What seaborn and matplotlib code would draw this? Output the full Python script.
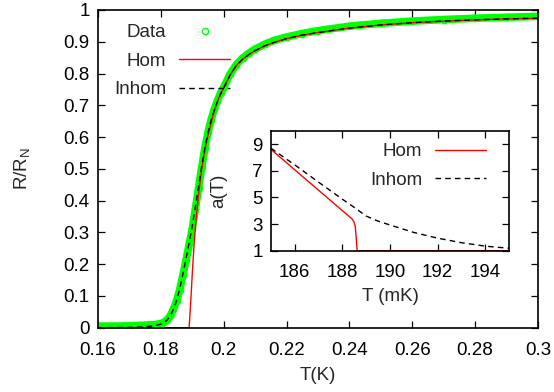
import numpy as np
import pandas as pd
import matplotlib
matplotlib.use("Agg")
import matplotlib.pyplot as plt
import seaborn as sns
from matplotlib.ticker import FuncFormatter

# ------------------------ Data ------------------------
T_data = [0.160, 0.165, 0.170, 0.175, 0.178, 0.180, 0.181, 0.182, 0.183, 0.184,
          0.185, 0.186, 0.187, 0.188, 0.189, 0.190, 0.191, 0.192, 0.193, 0.194,
          0.195, 0.196, 0.197, 0.198, 0.199, 0.200, 0.202, 0.204, 0.206, 0.208,
          0.210, 0.213, 0.216, 0.220, 0.225, 0.230, 0.240, 0.250, 0.260, 0.270,
          0.280, 0.290, 0.300]
R_data = [0.005, 0.005, 0.006, 0.008, 0.010, 0.013, 0.017, 0.025, 0.038, 0.058,
          0.085, 0.120, 0.165, 0.212, 0.262, 0.312, 0.375, 0.440, 0.505, 0.565,
          0.615, 0.655, 0.688, 0.715, 0.738, 0.757, 0.798, 0.828, 0.849, 0.864,
          0.877, 0.892, 0.904, 0.915, 0.926, 0.935, 0.949, 0.958, 0.965, 0.970,
          0.974, 0.977, 0.980]

T_inhom = [0.160, 0.170, 0.175, 0.178, 0.180, 0.181, 0.182, 0.183, 0.184, 0.185,
           0.186, 0.187, 0.188, 0.189, 0.190, 0.191, 0.192, 0.193, 0.194, 0.195,
           0.196, 0.197, 0.198, 0.199, 0.200, 0.202, 0.204, 0.206, 0.208, 0.210,
           0.213, 0.216, 0.220, 0.225, 0.230, 0.240, 0.250, 0.260, 0.270, 0.280,
           0.290, 0.300]
R_inhom = [0.000, 0.001, 0.003, 0.006, 0.011, 0.016, 0.024, 0.038, 0.058, 0.086,
           0.122, 0.168, 0.217, 0.268, 0.320, 0.382, 0.445, 0.508, 0.566, 0.614,
           0.653, 0.685, 0.712, 0.735, 0.754, 0.795, 0.825, 0.845, 0.860, 0.872,
           0.887, 0.898, 0.910, 0.921, 0.929, 0.943, 0.953, 0.960, 0.965, 0.969,
           0.972, 0.974]

T_hom = [0.160, 0.1890, 0.1895, 0.1900, 0.1905, 0.1910, 0.1920, 0.1930, 0.1940,
         0.1950, 0.1960, 0.1970, 0.1980, 0.1990, 0.2000, 0.202, 0.204, 0.206,
         0.208, 0.210, 0.213, 0.216, 0.220, 0.225, 0.230, 0.240, 0.250, 0.260,
         0.270, 0.280, 0.290, 0.300]
R_hom = [0.000, 0.000, 0.080, 0.170, 0.250, 0.320, 0.420, 0.500, 0.560,
         0.605, 0.645, 0.682, 0.712, 0.737, 0.755, 0.795, 0.825, 0.845,
         0.860, 0.872, 0.887, 0.898, 0.910, 0.921, 0.929, 0.943, 0.953, 0.960,
         0.965, 0.969, 0.972, 0.974]

# inset: a(T) vs T (mK)
Tin_hom = [185.0, 188.30, 188.40, 188.48, 188.54, 188.58, 188.62, 195.0]
a_hom = [8.62, 3.55, 3.40, 3.20, 2.85, 2.00, 1.00, 1.00]
Tin_inhom = [185.0, 186.0, 187.0, 188.0, 188.5, 189.0, 189.5, 190.0, 191.0,
             192.0, 193.0, 194.0, 195.0]
a_inhom = [8.70, 7.45, 6.15, 4.87, 4.25, 3.60, 3.22, 2.93, 2.37,
           1.94, 1.60, 1.34, 1.18]

df_data = pd.DataFrame({"T": T_data, "R": R_data})
df_inhom = pd.DataFrame({"T": T_inhom, "R": R_inhom})
df_hom = pd.DataFrame({"T": T_hom, "R": R_hom})
df_in_hom = pd.DataFrame({"T": Tin_hom, "a": a_hom})
df_in_inhom = pd.DataFrame({"T": Tin_inhom, "a": a_inhom})

# ------------------------ Style ------------------------
sns.set_theme(style="ticks")
plt.rcParams["font.family"] = ["Liberation Sans", "DejaVu Sans"]
plt.rcParams["mathtext.default"] = "regular"
FS = 13.5

GREEN = "#00ff00"
RED = "#ff0000"


def style_axes(a, xpad):
    a.tick_params(axis="x", direction="in", top=True, length=5, width=0.9,
                  labelsize=FS, pad=xpad, colors="black")
    a.tick_params(axis="y", direction="in", right=True, length=5, width=0.9,
                  labelsize=FS, pad=6, colors="black")
    for s in a.spines.values():
        s.set_linewidth(1.2)
        s.set_color("black")
        s.set_visible(True)


fig = plt.figure(figsize=(5.54, 3.92), dpi=100)
ax = fig.add_axes([0.1769, 0.164, 0.7941, 0.8105])

# ------------------------ Main plot ------------------------
sns.lineplot(data=df_data, x="T", y="R", ax=ax, color=GREEN, lw=5.5,
             solid_capstyle="round", label="_nolegend_")
sns.lineplot(data=df_data, x="T", y="R", ax=ax, color=GREEN, lw=0,
             marker="o", markersize=4.5, markerfacecolor="none",
             markeredgecolor=GREEN, markeredgewidth=1.0, label="Data")
sns.lineplot(data=df_hom, x="T", y="R", ax=ax, color=RED, lw=1.0, label="Hom")
sns.lineplot(data=df_inhom, x="T", y="R", ax=ax, color="black", lw=1.0,
             linestyle=(0, (4, 3)), label="Inhom")

ax.set_xlim(0.16, 0.30)
ax.set_ylim(0, 1)
ax.set_xticks(np.arange(0.16, 0.3001, 0.02))
ax.set_yticks(np.arange(0, 1.0001, 0.1))
ax.xaxis.set_major_formatter(FuncFormatter(lambda v, p: f"{round(v, 2):g}"))
ax.yaxis.set_major_formatter(FuncFormatter(lambda v, p: f"{round(v, 1):g}"))
style_axes(ax, 10)
ax.set_xlabel("T(K)", fontsize=FS, labelpad=6)
ax.set_ylabel("R/R$_N$", fontsize=FS)
ax.yaxis.set_label_coords(-0.15, 0.5)

ax.legend(loc="upper right", bbox_to_anchor=(0.30, 0.955), frameon=False,
          markerfirst=False, fontsize=FS, handlelength=2.7,
          handletextpad=0.7, labelspacing=0.6, borderpad=0, borderaxespad=0)

# ------------------------ Inset ------------------------
axi = fig.add_axes([0.489, 0.3605, 0.43, 0.3055])
sns.lineplot(data=df_in_hom, x="T", y="a", ax=axi, color=RED, lw=1.0,
             label="Hom")
sns.lineplot(data=df_in_inhom, x="T", y="a", ax=axi, color="black", lw=1.0,
             linestyle=(0, (4, 3)), label="Inhom")
axi.set_xlim(185, 195)
axi.set_ylim(1, 10)
axi.set_xticks([186, 188, 190, 192, 194])
axi.set_yticks([1, 3, 5, 7, 9])
style_axes(axi, 9.5)
axi.set_xlabel("T (mK)", fontsize=FS, labelpad=5)
axi.set_ylabel("a(T)", fontsize=FS)
axi.yaxis.set_label_coords(-0.185, 0.5)
axi.legend(loc="upper right", bbox_to_anchor=(0.903, 0.897), frameon=False,
           markerfirst=False, fontsize=FS, handlelength=2.7,
           handletextpad=0.7, labelspacing=0.6, borderpad=0, borderaxespad=0)

fig.savefig("out.png", dpi=100)
